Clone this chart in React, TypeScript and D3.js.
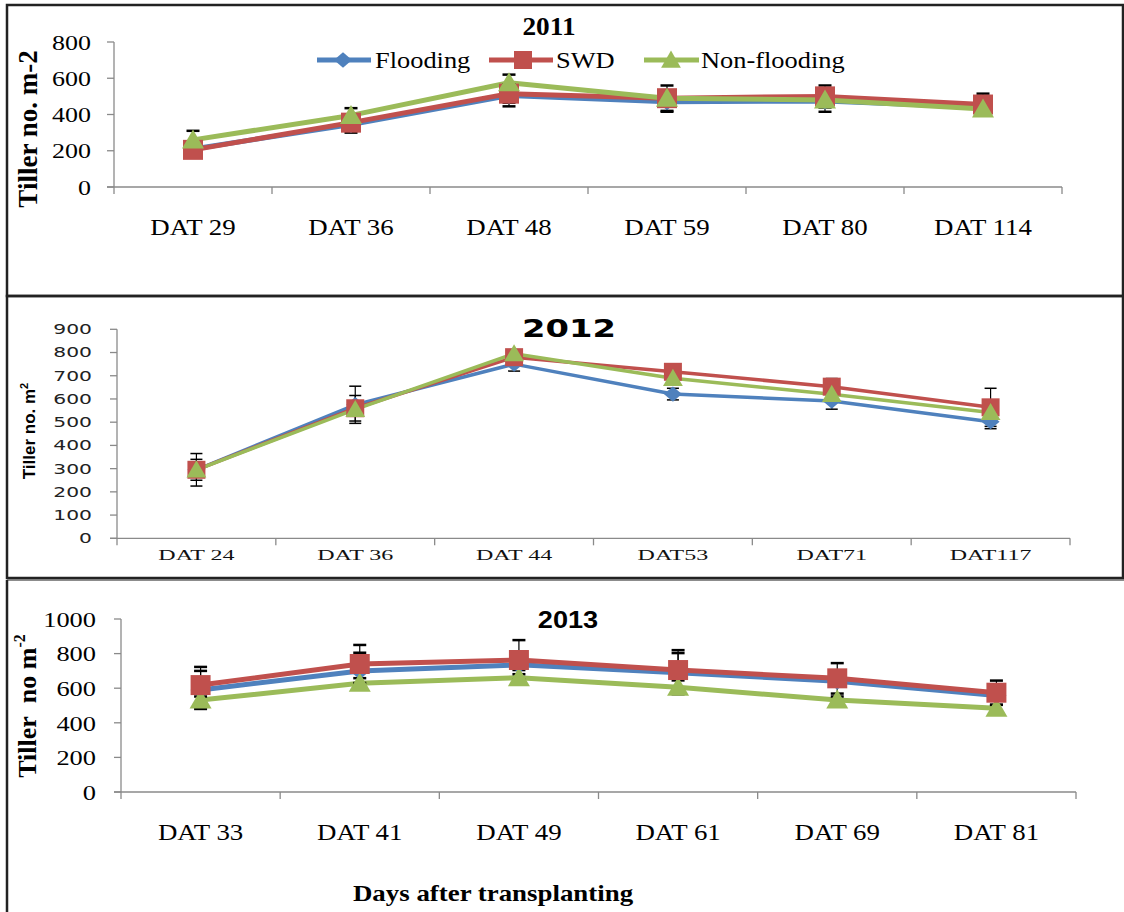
import React from 'react';
import * as d3 from 'd3';

// ---------- DATA ----------
const seriesNames = ['Flooding', 'SWD', 'Non-flooding'];
const seriesColors = ['#4F81BD', '#C0504D', '#9BBB59'];
const markerShapes = ['diamond', 'square', 'triangle'];

const cats2011 = ['DAT 29', 'DAT 36', 'DAT 48', 'DAT 59', 'DAT 80', 'DAT 114'];
const flooding2011 = [210, 345, 505, 470, 475, 440];
const swd2011 = [205, 355, 515, 490, 500, 455];
const nonFlooding2011 = [260, 395, 575, 490, 480, 430];
const floodingErr2011 = [40, 45, 60, 55, 60, 40];
const swdErr2011 = [30, 40, 50, 70, 60, 60];
const nonFloodingErr2011 = [50, 40, 45, 40, 40, 30];
const yTicks2011 = [0, 200, 400, 600, 800];

const cats2012 = ['DAT 24', 'DAT 36', 'DAT 44', 'DAT53', 'DAT71', 'DAT117'];
const flooding2012 = [295, 575, 750, 621, 591, 502];
const swd2012 = [295, 560, 780, 717, 653, 564];
const nonFlooding2012 = [295, 555, 795, 689, 620, 542];
const floodingErr2012 = [70, 80, 30, 25, 35, 30];
const swdErr2012 = [45, 55, 15, 10, 35, 82];
const nonFloodingErr2012 = [20, 20, 15, 10, 20, 15];
const yTicks2012 = [0, 100, 200, 300, 400, 500, 600, 700, 800, 900];

const cats2013 = ['DAT 33', 'DAT 41', 'DAT 49', 'DAT 61', 'DAT 69', 'DAT 81'];
const flooding2013 = [590, 700, 735, 690, 640, 558];
const swd2013 = [618, 740, 763, 705, 657, 574];
const nonFlooding2013 = [532, 628, 661, 605, 532, 484];
const floodingErr2013 = [110, 105, 30, 113, 30, 30];
const swdErr2013 = [105, 110, 115, 115, 88, 70];
const nonFloodingErr2013 = [20, 30, 20, 40, 20, 20];
const yTicks2013 = [0, 200, 400, 600, 800, 1000];

// ---------- HELPERS ----------
const SERIF = "'Liberation Serif', 'Times New Roman', serif";
const SANS = "'Liberation Sans', Arial, sans-serif";

function markerPath(shape: string, s: number): string {
  const h = s / 2;
  if (shape === 'diamond') return `M0,${-h * 0.85}L${h},0L0,${h * 0.85}L${-h},0Z`;
  if (shape === 'square') return `M${-h},${-h}H${h}V${h}H${-h}Z`;
  return `M0,${-h * 1.05}L${h * 1.1},${h * 0.85}L${-h * 1.1},${h * 0.85}Z`;
}

function T(props: any) {
  const { x, y, sx = 1, anchor = 'middle', size, family, weight = 'normal', children, fill = '#000' } = props;
  return (
    <text
      transform={`translate(${x},${y}) scale(${sx},1)`}
      textAnchor={anchor}
      fontSize={size}
      fontFamily={family}
      fontWeight={weight}
      fill={fill}
    >
      {children}
    </text>
  );
}

function Panel(p: any) {
  const x = d3.scaleBand<string>().domain(p.cats).range([p.x0, p.x1]).paddingInner(0).paddingOuter(0);
  const y = d3.scaleLinear().domain([0, p.yMax]).range([p.yBot, p.yTop]);
  const cx = (c: string) => (x(c) as number) + x.bandwidth() / 2;
  const line = d3
    .line<number>()
    .x((_, i) => cx(p.cats[i]))
    .y((v) => y(v));
  const boundaries = p.cats.map((c: string) => x(c) as number).concat([p.x1]);
  const axisColor = '#8a8a8a';
  return (
    <g>
      {/* y axis */}
      <line x1={p.x0} x2={p.x0} y1={p.yTop} y2={p.yBot} stroke={axisColor} strokeWidth={1.3} />
      {p.yTicks.map((t: number) => (
        <g key={t}>
          <line x1={p.x0 - 7} x2={p.x0} y1={y(t)} y2={y(t)} stroke={axisColor} strokeWidth={1.3} />
          <T x={p.tickRight} y={y(t) + p.tickSize * 0.35} sx={p.tickSx} anchor="end" size={p.tickSize} family={p.tickFamily} fill={p.tickFill || '#000'}>
            {String(t)}
          </T>
        </g>
      ))}
      {/* x axis */}
      <line x1={p.x0 - 7} x2={p.x1} y1={p.yBot} y2={p.yBot} stroke={axisColor} strokeWidth={1.3} />
      {boundaries.map((b: number, i: number) => (
        <line key={i} x1={b} x2={b} y1={p.yBot} y2={p.yBot + 7} stroke={axisColor} strokeWidth={1.3} />
      ))}
      {p.cats.map((c: string) => (
        <T key={c} x={cx(c)} y={p.xLabelY} sx={p.xLabelSx} size={p.xLabelSize} family={p.xLabelFamily} weight={p.xLabelWeight || 'normal'} fill={p.xLabelFill || '#000'}>
          {c}
        </T>
      ))}
      {/* series lines */}
      {p.order.map((si: number) => (
        <path key={'l' + si} d={line(p.values[si]) || ''} fill="none" stroke={seriesColors[si]} strokeWidth={p.lineWidth} strokeLinejoin="round" />
      ))}
      {/* error bars */}
      {p.order.map((si: number) =>
        p.values[si].map((v: number, i: number) => {
          const xx = cx(p.cats[i]);
          const e = p.errs[si][i];
          const cw = p.capW / 2;
          return (
            <g key={'e' + si + '-' + i} stroke="#000" strokeWidth={p.errW}>
              <line x1={xx} x2={xx} y1={y(v + e)} y2={y(v - e)} strokeWidth={1.2} />
              <line x1={xx - cw} x2={xx + cw} y1={y(v + e)} y2={y(v + e)} />
              <line x1={xx - cw} x2={xx + cw} y1={y(v - e)} y2={y(v - e)} />
            </g>
          );
        })
      )}
      {/* markers */}
      {p.order.map((si: number) =>
        p.values[si].map((v: number, i: number) => (
          <path
            key={'m' + si + '-' + i}
            d={markerPath(markerShapes[si], p.markerSize)}
            transform={`translate(${cx(p.cats[i])},${y(v)})`}
            fill={seriesColors[si]}
          />
        ))
      )}
    </g>
  );
}

export default function App() {
  const legendItems = [
    { lx1: 317, lx2: 371, mx: 343, tx: 375 },
    { lx1: 489, lx2: 553, mx: 523, tx: 556 },
    { lx1: 644, lx2: 699, mx: 671, tx: 701 },
  ];
  const legendY = 60;
  return (
    <svg width={1124} height={912} style={{ position: 'absolute', left: 0, top: 0, background: '#fff' }}>
      <rect x={0} y={0} width={1124} height={912} fill="#fff" />
      {/* panel frames */}
      <rect x={7} y={5} width={1116} height={291} fill="none" stroke="#222" strokeWidth={2.5} />
      <rect x={7} y={296} width={1116} height={282} fill="none" stroke="#222" strokeWidth={2.5} />
      <line x1={7} x2={1124} y1={580} y2={580} stroke="#666" strokeWidth={1.5} />
      <line x1={7} x2={7} y1={580} y2={912} stroke="#222" strokeWidth={2.5} />

      {/* ---------- 2011 ---------- */}
      <Panel
        cats={cats2011}
        values={[flooding2011, swd2011, nonFlooding2011]}
        errs={[floodingErr2011, swdErr2011, nonFloodingErr2011]}
        yTicks={yTicks2011}
        yMax={800}
        x0={114}
        x1={1062}
        yTop={42}
        yBot={187}
        lineWidth={5}
        markerSize={20}
        errW={2.5}
        capW={13}
        order={[0, 1, 2]}
        tickRight={91}
        tickSize={22}
        tickSx={1.18}
        tickFamily={SERIF}
        xLabelY={235}
        xLabelSize={24}
        xLabelSx={1.12}
        xLabelFamily={SERIF}
      />
      <T x={549} y={35} size={26} family={SERIF} weight="bold" sx={1.05}>2011</T>
      <text transform={`translate(${28 + 9},129) rotate(-90)`} textAnchor="middle" fontSize={27} fontFamily={SERIF} fontWeight="bold">
        Tiller no. m-2
      </text>
      {legendItems.map((it, i) => (
        <g key={i}>
          <line x1={it.lx1} x2={it.lx2} y1={legendY} y2={legendY} stroke={seriesColors[i]} strokeWidth={5} />
          <path d={markerPath(markerShapes[i], 18)} transform={`translate(${it.mx},${legendY})`} fill={seriesColors[i]} />
          <T x={it.tx} y={legendY + 8} anchor="start" size={24} family={SERIF} sx={1.1}>
            {seriesNames[i]}
          </T>
        </g>
      ))}

      {/* ---------- 2012 ---------- */}
      <Panel
        cats={cats2012}
        values={[flooding2012, swd2012, nonFlooding2012]}
        errs={[floodingErr2012, swdErr2012, nonFloodingErr2012]}
        yTicks={yTicks2012}
        yMax={900}
        x0={117}
        x1={1070}
        yTop={329.3}
        yBot={538.3}
        lineWidth={3.5}
        markerSize={18}
        errW={1.5}
        capW={12}
        order={[0, 1, 2]}
        tickRight={92}
        tickSize={14}
        tickSx={1.45}
        tickFamily="'DejaVu Sans', sans-serif"
        tickFill="#222"
        xLabelY={560}
        xLabelSize={15}
        xLabelSx={1.6}
        xLabelFamily={SERIF}
        xLabelWeight="normal"
        xLabelFill="#111"
      />
      <T x={569} y={337} size={25} family="'DejaVu Sans', sans-serif" weight="bold" sx={1.35}>2012</T>
      <text transform={`translate(${28.6 + 6},431) rotate(-90)`} textAnchor="middle" fontSize={17} fontFamily="'Liberation Sans Narrow', 'Arial Narrow', 'Liberation Sans', sans-serif" fontWeight="bold">
        Tiller no. m
        <tspan fontSize={11} dy={-7}>2</tspan>
      </text>

      {/* ---------- 2013 ---------- */}
      <Panel
        cats={cats2013}
        values={[flooding2013, swd2013, nonFlooding2013]}
        errs={[floodingErr2013, swdErr2013, nonFloodingErr2013]}
        yTicks={yTicks2013}
        yMax={1000}
        x0={121}
        x1={1076}
        yTop={619}
        yBot={792}
        lineWidth={5}
        markerSize={20}
        errW={2.5}
        capW={13}
        order={[0, 2, 1]}
        tickRight={96}
        tickSize={22}
        tickSx={1.2}
        tickFamily={SERIF}
        xLabelY={840}
        xLabelSize={24}
        xLabelSx={1.12}
        xLabelFamily={SERIF}
      />
      <T x={568} y={628} size={23} family={SANS} weight="bold" sx={1.18}>2013</T>
      <text transform={`translate(${27 + 9},706) rotate(-90)`} textAnchor="middle" fontSize={26} fontFamily={SERIF} fontWeight="bold">
        Tiller{'\u00a0\u00a0'}no m
        <tspan fontSize={16} dy={-11}>-2</tspan>
      </text>
      <T x={493} y={901} size={24} family={SERIF} weight="bold" sx={1.12}>Days after transplanting</T>
    </svg>
  );
}
